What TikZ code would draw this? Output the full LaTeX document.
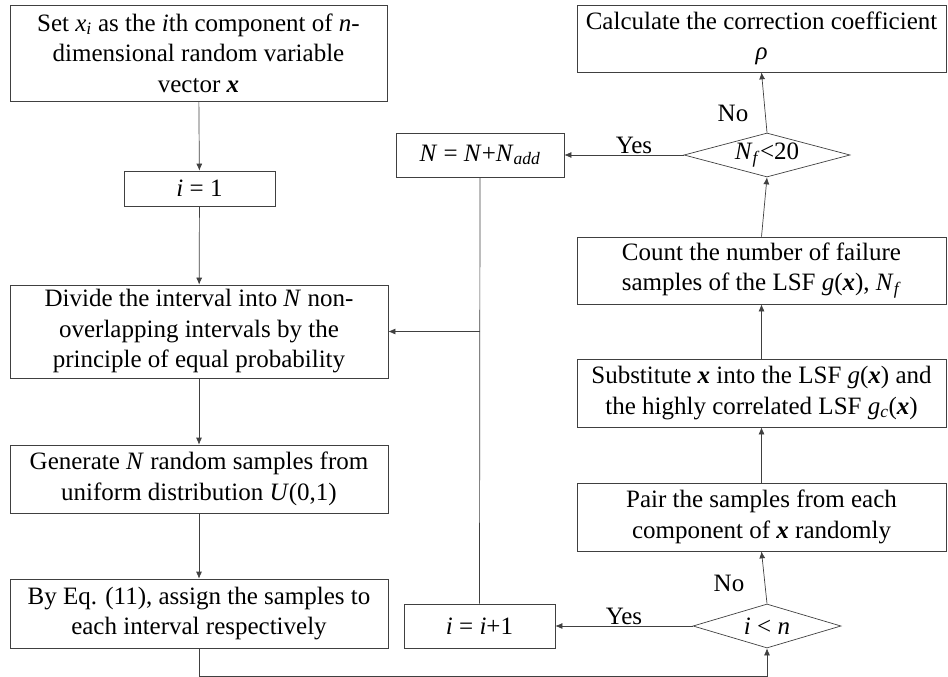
\documentclass[tikz,border=0pt]{standalone}
\usepackage{fontspec}
\setmainfont{Liberation Serif}
\usetikzlibrary{arrows.meta,shapes.geometric}
\newcommand{\vx}{\textbf{\textit{x}}}
\newcommand{\iv}[1]{\textit{#1}}
\begin{document}
\begin{tikzpicture}[x=1pt,y=-1pt,
  every node/.style={font=\fontsize{25}{30.5}\selectfont},
  box/.style={draw=black!75,line width=0.7pt,rectangle,align=center,inner sep=0pt},
  dia/.style={draw=black!75,line width=0.7pt,diamond,aspect=3.4,inner sep=0pt},
  conn/.style={draw=black!75,line width=0.7pt},
  arr/.style={conn,-{Latex[length=7pt,width=6pt]}},
  lbl/.style={inner sep=0pt}]
\useasboundingbox (0,0) rectangle (948,677);
\node[box,minimum width=377pt,minimum height=96pt] (b1) at (198.5,53)
  {Set \iv{x}\textsubscript{\iv{i}} as the \iv{i}th component of \iv{n}-\\dimensional random variable\\vector \vx};
\node[box,minimum width=151pt,minimum height=35pt] (i1) at (199.5,188.5) {\iv{i} = 1};
\node[box,minimum width=378pt,minimum height=93pt] (div) at (199,331.5)
  {Divide the interval into \iv{N} non-\\overlapping intervals by the\\principle of equal probability};
\node[box,minimum width=378pt,minimum height=68pt] (gen) at (199,479)
  {Generate \iv{N} random samples from\\uniform distribution \iv{U}(0,1)};
\node[box,minimum width=378pt,minimum height=69pt] (eq) at (199,613.5)
  {By Eq. (11), assign the samples to\\each interval respectively};
\node[box,minimum width=151pt,minimum height=44pt] (inc) at (479.5,626) {\iv{i} = \iv{i}+1};
\node[dia,minimum width=148pt,minimum height=44pt] (d1) at (767,626) {};
\node at (767,626) {\iv{i} {\textless} \iv{n}};
\node[box,minimum width=369pt,minimum height=68pt] (pair) at (761.5,517)
  {Pair the samples from each\\component of \vx{} randomly};
\node[box,minimum width=369pt,minimum height=68pt] (sub) at (761.5,393)
  {Substitute \vx{} into the LSF \iv{g}(\vx) and\\the highly correlated LSF \iv{g}\textsubscript{\iv{c}}(\vx)};
\node[box,minimum width=369pt,minimum height=67pt] (cnt) at (761.5,270.5)
  {Count the number of failure\\samples of the LSF \iv{g}(\vx), \iv{N}\textsubscript{\iv{f}}};
\node[dia,minimum width=166pt,minimum height=44pt] (d2) at (767,155) {};
\node at (767,155) {\iv{N}\textsubscript{\iv{f}}{\textless}20};
\node[box,minimum width=168pt,minimum height=44pt] (nadd) at (480,155)
  {\iv{N} = \iv{N}+\iv{N}\textsubscript{\iv{add}}};
\node[box,minimum width=369pt,minimum height=67pt] (calc) at (761.5,38.5)
  {Calculate the correction coefficient\\\iv{ρ}};
\coordinate (bl) at (eq.south |- 0,676);
\coordinate (br) at (d1.south |- 0,676);
\coordinate (jn) at (nadd.south |- div.east);
\draw[arr] (b1) -- (i1);
\draw[arr] (i1) -- (div);
\draw[arr] (div) -- (gen);
\draw[arr] (gen) -- (eq);
\draw[arr] (eq.south) -- (bl) -- (br) -- (d1.south);
\draw[arr] (d1.west) -- (inc.east);
\draw[arr] (d1.north) -- (pair.south);
\draw[arr] (pair) -- (sub);
\draw[arr] (sub) -- (cnt);
\draw[arr] (cnt.north) -- (d2.south);
\draw[arr] (d2.north) -- (calc.south);
\draw[arr] (d2.west) -- (nadd.east);
\draw[conn] (nadd.south) -- (inc.north);
\draw[arr] (jn) -- (div.east);
\node[lbl] (no1) at (733,113) {No};
\node[lbl] (yes1) at (634,145) {Yes};
\node[lbl] (no2) at (729,583) {No};
\node[lbl] (yes2) at (624,616) {Yes};
\end{tikzpicture}
\end{document}
